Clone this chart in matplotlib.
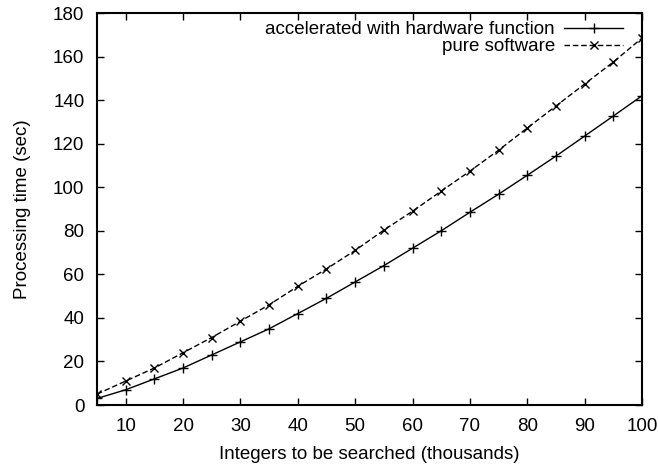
import matplotlib.pyplot as plt

plt.rcParams['font.family'] = ['Liberation Sans', 'DejaVu Sans']
plt.rcParams['font.size'] = 13.5

# dados
inteiros = [5, 10, 15, 20, 25, 30, 35, 40, 45, 50, 55, 60, 65, 70, 75, 80, 85, 90, 95, 100]
hardware = [3, 7, 12, 17, 23, 29, 35, 42, 49, 56.5, 64, 72, 80, 88.5, 96.8, 105.5, 114.3, 123.5, 132.7, 142]
software = [5, 11, 17, 24, 31, 38.5, 46, 54.5, 62.5, 71, 80.3, 89, 98.2, 107.4, 117, 127.2, 137.3, 147.4, 157.5, 168.5]
xticks = [10, 20, 30, 40, 50, 60, 70, 80, 90, 100]
yticks = [0, 20, 40, 60, 80, 100, 120, 140, 160, 180]

fig = plt.figure(figsize=(6.58, 4.65), dpi=100)
ax = fig.add_axes([0.1474, 0.129, 0.8283, 0.843])

ax.plot(inteiros, hardware, color='black', lw=1, marker='+', ms=7, mew=1,
        label='accelerated with hardware function')
ax.plot(inteiros, software, color='black', lw=1, ls=(0, (4, 2)), marker='x', ms=6, mew=1,
        label='pure software')

ax.set_xlim(5, 100)
ax.set_ylim(0, 180)
ax.set_xticks(xticks)
ax.set_yticks(yticks)
ax.tick_params(axis='y', direction='in', right=True, length=5, width=1, pad=9)
ax.tick_params(axis='x', direction='in', top=True, length=5, width=1, pad=9)
for s in ax.spines.values():
    s.set_linewidth(1.5)

ax.set_xlabel('Integers to be searched (thousands)', labelpad=8)
ax.set_ylabel('Processing time (sec)', labelpad=16)

ax.legend(loc='upper right', frameon=False, markerfirst=False, numpoints=1,
          handlelength=3.1, handletextpad=0.5, labelspacing=0.0,
          borderaxespad=0.2, bbox_to_anchor=(0.985, 1.008))

fig.savefig('out.png', dpi=100)
